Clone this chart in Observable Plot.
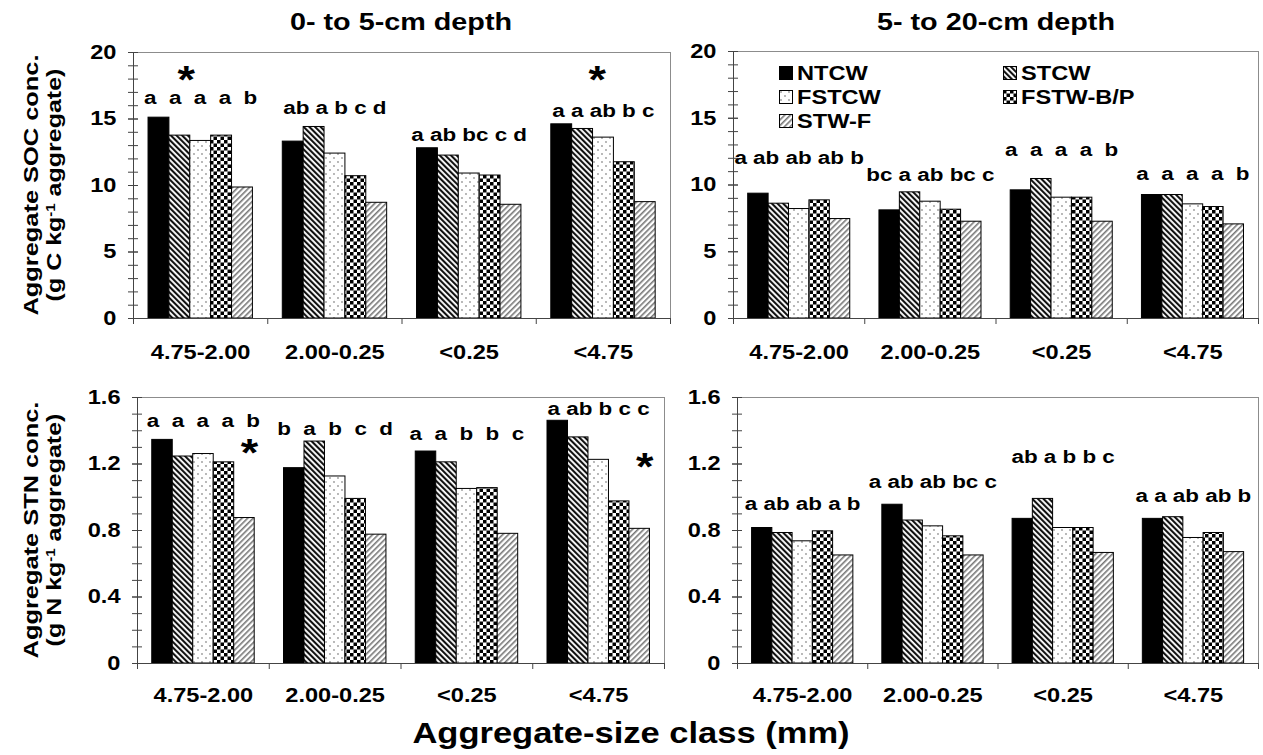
<!DOCTYPE html>
<html><head><meta charset="utf-8">
<script src="https://cdn.jsdelivr.net/npm/d3@7"></script>
<script src="https://cdn.jsdelivr.net/npm/@observablehq/plot@0.6"></script>
<style>
html,body{margin:0;padding:0;background:#fff;}
#root{position:relative;width:1263px;height:755px;overflow:hidden;font-family:"Liberation Sans",Arial,sans-serif;font-weight:bold;color:#000;}
.abs{position:absolute;}
.ctr{position:absolute;white-space:nowrap;line-height:1;}
</style></head><body>
<svg width="0" height="0" style="position:absolute">
<defs>
<pattern id="pat-stcw" patternUnits="userSpaceOnUse" width="4" height="4" patternTransform="rotate(-45)">
  <rect width="4" height="4" fill="#fff"/><rect width="2.1" height="4" fill="#111"/>
</pattern>
<pattern id="pat-fstcw" patternUnits="userSpaceOnUse" width="8" height="8">
  <rect width="8" height="8" fill="#fff"/>
  <circle cx="2" cy="2" r="0.9" fill="#999"/><circle cx="6" cy="6" r="0.9" fill="#999"/>
</pattern>
<pattern id="pat-fstw" patternUnits="userSpaceOnUse" width="7" height="7">
  <rect width="7" height="7" fill="#fff"/>
  <rect width="3.5" height="3.5" fill="#000"/><rect x="3.5" y="3.5" width="3.5" height="3.5" fill="#000"/>
</pattern>
<pattern id="pat-stwf" patternUnits="userSpaceOnUse" width="4" height="4" patternTransform="rotate(45)">
  <rect width="4" height="4" fill="#fff"/><rect width="1.6" height="4" fill="#777"/>
</pattern>
</defs>
</svg>
<div id="root"></div>
<script>
// ---------------- data ----------------
const groups = ["4.75-2.00", "2.00-0.25", "<0.25", "<4.75"];
const series = ["NTCW", "STCW", "FSTCW", "FSTW-B/P", "STW-F"];

// Aggregate SOC (g C kg-1), 0-5 cm; one row per size class, one value per treatment
const soc0to5 = [
  [15.1, 13.75, 13.35, 13.75, 9.85],
  [13.3, 14.4, 12.4, 10.7, 8.7],
  [12.8, 12.25, 10.9, 10.75, 8.55],
  [14.6, 14.25, 13.6, 11.75, 8.75]
];
const soc5to20 = [
  [9.35, 8.6, 8.2, 8.85, 7.45],
  [8.1, 9.45, 8.75, 8.15, 7.25],
  [9.6, 10.45, 9.05, 9.05, 7.25],
  [9.25, 9.25, 8.55, 8.35, 7.05]
];
// Aggregate STN (g N kg-1)
const stn0to5 = [
  [1.345, 1.245, 1.26, 1.21, 0.875],
  [1.175, 1.335, 1.125, 0.99, 0.775],
  [1.275, 1.21, 1.05, 1.055, 0.78],
  [1.46, 1.36, 1.225, 0.975, 0.81]
];
const stn5to20 = [
  [0.815, 0.785, 0.735, 0.795, 0.65],
  [0.955, 0.86, 0.825, 0.765, 0.65],
  [0.87, 0.99, 0.815, 0.815, 0.665],
  [0.87, 0.88, 0.755, 0.785, 0.67]
];

// significance letters and their heights (data units)
const socLetters0to5 = [["a","a","a","a","b"], ["ab","a","b","c","d"], ["a","ab","bc","c","d"], ["a","a","ab","b","c"]];
const socLetterY0to5 = [16.6, 15.8, 13.8, 15.6];
const socLetters5to20 = [["a","ab","ab","ab","b"], ["bc","a","ab","bc","c"], ["a","a","a","a","b"], ["a","a","a","a","b"]];
const socLetterY5to20 = [12.0, 10.75, 12.65, 10.8];
const stnLetters0to5 = [["a","a","a","a","b"], ["b","a","b","c","d"], ["a","a","b","b","c"], ["a","ab","b","c","c"]];
const stnLetterY0to5 = [1.46, 1.41, 1.38, 1.53];
const stnLetters5to20 = [["a","ab","ab","a","b"], ["a","ab","ab","bc","c"], ["ab","a","b","b","c"], ["a","a","ab","ab","b"]];
const stnLetterY5to20 = [0.96, 1.09, 1.24, 1.01];

// asterisks: size class index, position in bar units, height
const socStars0to5 = [{g: 0, pos: 1.3, y: 18.6}, {g: 3, pos: 1.7, y: 18.6}];
const stnStars0to5 = [{g: 0, pos: 4.25, y: 1.32}, {g: 3, pos: 4.25, y: 1.24}];

const socTicks = [0, 5, 10, 15, 20];
const stnTicks = [0, 0.4, 0.8, 1.2, 1.6];

// ---------------- style ----------------
const fills = ["#000", "url(#pat-stcw)", "url(#pat-fstcw)", "url(#pat-fstw)", "url(#pat-stwf)"];
const OFF = 0.112, BW = 0.1555, STRETCH = 1.18;
const FONT = "'Liberation Sans', Arial, sans-serif";

function joinTokens(t) {
  return t.every(s => s.length === 1) ? t.join(" \u00a0") : t.join(" ");
}
function stretchText(svg, k) {
  svg.querySelectorAll("text").forEach(t => {
    const x = +t.getAttribute("x") || 0, y = +t.getAttribute("y") || 0;
    const tr = t.getAttribute("transform") || "";
    t.setAttribute("transform", `${tr} translate(${x},${y}) scale(${k},1) translate(${-x},${-y})`);
  });
}

const root = document.getElementById("root");

function panel(o) {
  const rows = [];
  o.values.forEach((arr, gi) => arr.forEach((v, si) => rows.push({gi, si, v})));
  const minor = d3.range(0, o.yMax + o.minorStep / 2, o.minorStep);
  const marks = [
    Plot.frame({stroke: "#8c8c8c"}),
    ...series.map((s, si) => Plot.rect(rows.filter(d => d.si === si), {
      x1: d => d.gi + OFF + d.si * BW,
      x2: d => d.gi + OFF + (d.si + 1) * BW,
      y1: 0, y2: "v",
      fill: fills[si], stroke: "#000", strokeWidth: 1
    })),
    Plot.ruleY([0], {stroke: "#444"}),
    Plot.ruleX([0], {stroke: "#444"}),
    Plot.axisY({ticks: minor, tickSize: 10, dx: 5, tickFormat: () => "", stroke: "#444", label: null}),
    Plot.axisY({ticks: o.major, tickSize: 10, dx: 5, tickPadding: 12, stroke: "#444", fontSize: 20, fontWeight: "bold",
      tickFormat: d => d === 0 ? "0" : String(d), label: null}),
    Plot.axisX({ticks: [0, 1, 2, 3, 4], tickSize: 6, tickFormat: () => "", stroke: "#444", label: null}),
    Plot.axisX({ticks: groups.map((g, i) => i + 0.5), tickFormat: d => groups[Math.floor(d)], tickSize: 0,
      tickPadding: o.tickPad, fontSize: 20, fontWeight: "bold", label: null}),
    Plot.text(o.letters.map((L, gi) => ({gi, t: joinTokens(L), y: o.letterY[gi]})), {
      x: d => d.gi + 0.5, y: "y", text: "t", fontSize: 19, fontWeight: "bold"
    })
  ];
  if (o.stars) marks.push(Plot.text(o.stars, {
    x: d => d.g + OFF + (d.pos + 0.5) * BW, y: "y", text: () => "*", fontSize: 38, dy: 10
  }));
  const svg = Plot.plot({
    width: o.width, height: o.height,
    marginTop: o.mt, marginBottom: o.mb, marginLeft: o.ml, marginRight: o.mr,
    x: {domain: [0, 4]},
    y: {domain: [0, o.yMax]},
    style: {fontFamily: FONT, fontWeight: "bold", fontSize: "19px", color: "#000", background: "transparent", overflow: "visible"},
    marks
  });
  stretchText(svg, STRETCH);
  const div = document.createElement("div");
  div.className = "abs";
  div.style.left = o.left + "px"; div.style.top = o.top + "px";
  div.appendChild(svg);
  root.appendChild(div);
}

panel({values: soc0to5, letters: socLetters0to5, letterY: socLetterY0to5, stars: socStars0to5,
  yMax: 20, major: socTicks, minorStep: 1,
  left: 0, top: 0, width: 680, height: 380, mt: 52, mb: 62, ml: 133, mr: 10, tickPad: 26});
panel({values: soc5to20, letters: socLetters5to20, letterY: socLetterY5to20,
  yMax: 20, major: socTicks, minorStep: 1,
  left: 680, top: 0, width: 583, height: 380, mt: 51, mb: 62, ml: 53, mr: 5, tickPad: 26});
panel({values: stn0to5, letters: stnLetters0to5, letterY: stnLetterY0to5, stars: stnStars0to5,
  yMax: 1.6, major: stnTicks, minorStep: 0.1,
  left: 0, top: 380, width: 680, height: 340, mt: 17, mb: 57, ml: 137, mr: 16, tickPad: 24});
panel({values: stn5to20, letters: stnLetters5to20, letterY: stnLetterY5to20,
  yMax: 1.6, major: stnTicks, minorStep: 0.1,
  left: 680, top: 380, width: 583, height: 340, mt: 17, mb: 57, ml: 57, mr: 5, tickPad: 24});

// ---------------- titles ----------------
function label(html, x, y, size, tf) {
  const d = document.createElement("div");
  d.className = "ctr";
  d.innerHTML = html;
  d.style.left = x + "px"; d.style.top = y + "px"; d.style.fontSize = size + "px";
  d.style.transform = tf;
  root.appendChild(d);
  return d;
}
label("0- to 5-cm depth", 401, 22, 23, "translate(-50%,-50%) scaleX(1.25)");
label("5- to 20-cm depth", 996, 22, 23, "translate(-50%,-50%) scaleX(1.25)");
label("Aggregate-size class (mm)", 631, 733, 30, "translate(-50%,-50%) scaleX(1.15)");
const sup = s => `<sup style="font-size:0.6em;vertical-align:0.5em;line-height:0">${s}</sup>`;
label("Aggregate SOC conc.", 31, 185, 20, "translate(-50%,-50%) rotate(-90deg) scaleX(1.27)");
label(`(g C kg${sup("-1")} aggregate)`, 54, 185, 20, "translate(-50%,-50%) rotate(-90deg) scaleX(1.25)");
label("Aggregate STN conc.", 31, 530, 20, "translate(-50%,-50%) rotate(-90deg) scaleX(1.27)");
label(`(g N kg${sup("-1")} aggregate)`, 54, 530, 20, "translate(-50%,-50%) rotate(-90deg) scaleX(1.25)");

// ---------------- legend (inside top-right panel) ----------------
const legX = [779, 1003], legY = [73, 97, 121];
series.forEach((s, si) => {
  const col = si % 2, row = Math.floor(si / 2);
  const sw = document.createElementNS("http://www.w3.org/2000/svg", "svg");
  sw.setAttribute("width", 14); sw.setAttribute("height", 14);
  sw.style.position = "absolute";
  sw.style.left = legX[col] + "px"; sw.style.top = (legY[row] - 7) + "px";
  sw.innerHTML = `<rect x="0.5" y="0.5" width="13" height="13" fill="${fills[si]}" stroke="#000" stroke-width="1"/>`;
  root.appendChild(sw);
  const t = document.createElement("div");
  t.className = "ctr";
  t.textContent = s;
  t.style.left = (legX[col] + 18) + "px"; t.style.top = legY[row] + "px";
  t.style.fontSize = "20px";
  t.style.transformOrigin = "left center";
  t.style.transform = `translateY(-50%) scaleX(${STRETCH})`;
  root.appendChild(t);
});
</script>
</body></html>
